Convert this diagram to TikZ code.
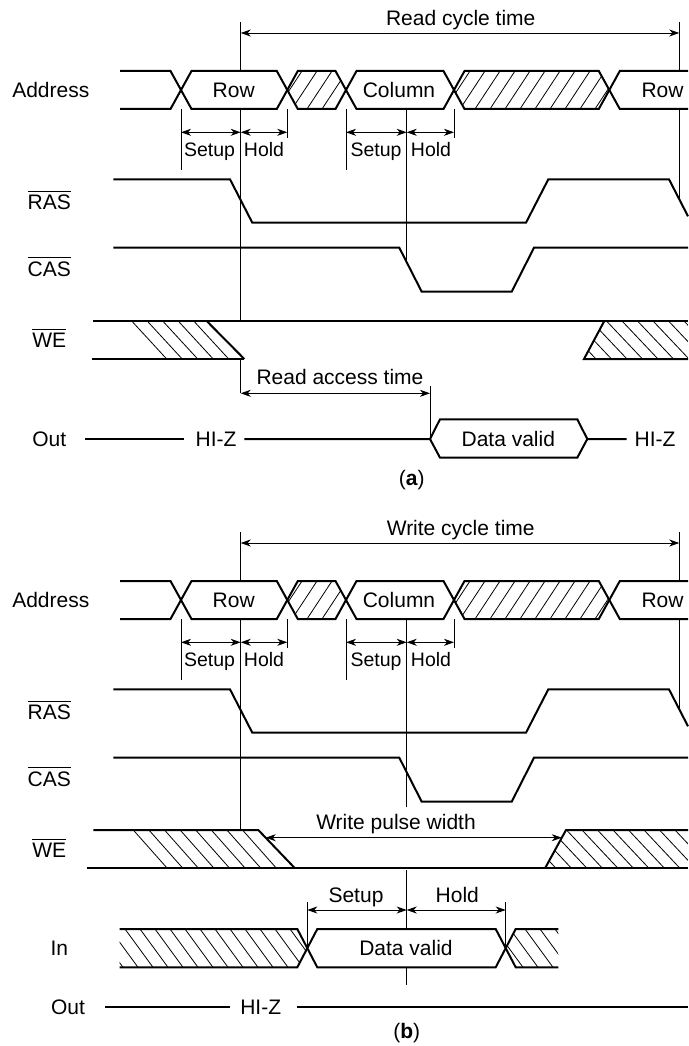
\documentclass[tikz,border=0pt]{standalone}
\usepackage{fontspec}
\setmainfont{Liberation Sans}
\usetikzlibrary{arrows.meta}
\newcommand\ovl[1]{\vbox{\hrule height 0.9pt\kern 3pt\hbox{#1}}}
\tikzset{
 sig/.style={line width=2pt, line join=miter},
 thinl/.style={line width=0.9pt},
 hat/.style={line width=0.8pt},
 dimarrow/.style={thinl, {Stealth[length=10pt,width=7pt,inset=3pt]}-{Stealth[length=10pt,width=7pt,inset=3pt]}},
 lbl/.style={font=\fontsize{21}{25}\selectfont, inner sep=0pt, text height=15pt, text depth=0pt},
 slbl/.style={lbl, font=\fontsize{19.5}{23}\selectfont, text height=14pt},
 olbl/.style={font=\fontsize{21}{25}\selectfont, inner sep=0pt, anchor=base},
}
% common part of one panel: #1 cycle text, #2 lower end of column line
\newcommand\drampanel[2]{%
 \node[lbl] (cyc) at (460.7,18.3) {#1};
 \draw[dimarrow] (240.7,33) -- (679.3,33);
 \draw[thinl] (240.7,22) -- (240.7,71) (240.7,109) -- (240.7,321);
 \draw[thinl] (679.3,22) -- (679.3,71) (679.3,109) -- (679.3,199);
 % address
 \node[lbl] (addr) at (50.8,90) {Address};
 \draw[sig] (120,71) -- (170.5,71) -- (191.5,109) -- (276.8,109) -- (297.8,71) -- (335.5,71) -- (356.5,109) -- (443.5,109) -- (464.5,71) -- (598.8,71) -- (619.8,109) -- (688,109);
 \draw[sig] (120,109) -- (170.5,109) -- (191.5,71) -- (276.8,71) -- (297.8,109) -- (335.5,109) -- (356.5,71) -- (443.5,71) -- (464.5,109) -- (598.8,109) -- (619.8,71) -- (688,71);
 \begin{scope}
  \clip (287.3,90) -- (297.8,71) -- (335.5,71) -- (346,90) -- (335.5,109) -- (297.8,109) -- cycle;
  \foreach \x in {262,277,...,352} \draw[hat] (\x,109) -- ++(25,-38);
 \end{scope}
 \begin{scope}
  \clip (454,90) -- (464.5,71) -- (598.8,71) -- (609.3,90) -- (598.8,109) -- (464.5,109) -- cycle;
  \foreach \x in {430,445,...,615} \draw[hat] (\x,109) -- ++(25,-38);
 \end{scope}
 \node[lbl] (rowa) at (233.7,90) {Row};
 \node[lbl] (col) at (399,90) {Column};
 \node[lbl] (rowb) at (662.5,90) {Row};
 % setup / hold
 \draw[thinl] (181,109) -- (181,170);
 \draw[thinl] (287.3,109) -- (287.3,138);
 \draw[thinl] (346,109) -- (346,170);
 \draw[thinl] (454,109) -- (454,138);
 \draw[thinl] (406.7,109) -- (406.7,#2);
 \draw[dimarrow] (181,132.3) -- (240.7,132.3);
 \draw[dimarrow] (240.7,132.3) -- (287.3,132.3);
 \draw[dimarrow] (346,132.3) -- (406.7,132.3);
 \draw[dimarrow] (406.7,132.3) -- (454,132.3);
 \node[slbl] (su1) at (209.5,149) {Setup};
 \node[slbl] (ho1) at (264,149) {Hold};
 \node[slbl] (su2) at (376,149) {Setup};
 \node[slbl] (ho2) at (431,149) {Hold};
 % RAS, CAS
 \node[olbl] (ras) at (49.3,209.3) {\ovl{RAS}};
 \draw[sig] (113.3,179.3) -- (230,179.3) -- (252.3,222.7) -- (526,222.7) -- (548.3,179.3) -- (669,179.3) -- (688,216.3);
 \node[olbl] (cas) at (49.3,276) {\ovl{CAS}};
 \draw[sig] (113.3,247.7) -- (399.3,247.7) -- (421.7,291.7) -- (511.7,291.7) -- (534,247.7) -- (688,247.7);
 \node[olbl] (we) at (49.3,347.7) {\ovl{WE}};
}
\begin{document}
\begin{tikzpicture}[x=1pt,y=-1pt]
\useasboundingbox (0,0) rectangle (688,1046);

% ================= (a) =================
\begin{scope}[name prefix=a-]
 \drampanel{Read cycle time}{262}
 % WE
 \draw[sig] (93.3,321) -- (688,321);
 \draw[sig] (91.7,359) -- (244.3,359);
 \draw[sig] (206.7,321) -- (244.3,359);
 \foreach \x in {131.7,147.2,162.7,178.2,193.7} \draw[hat] (\x,321) -- ++(35,38);
 \begin{scope}
  \clip (584,359) -- (604.3,321) -- (688,321) -- (688,359) -- cycle;
  \foreach \x in {560,575.5,...,700} \draw[hat] (\x,321) -- ++(36,38);
 \end{scope}
 \draw[sig] (688,359) -- (584,359) -- (604.3,321);
 % Out
 \node[lbl] (out) at (49.3,439) {Out};
 \draw[sig] (85,439) -- (184,439);
 \node[lbl] (hiz1) at (216,439) {HI-Z};
 \draw[sig] (244.3,439) -- (430,439) -- (440,419.3) -- (577.3,419.3) -- (587.3,439) -- (626.7,439);
 \draw[sig] (430,439) -- (440,457.7) -- (577.3,457.7) -- (587.3,439);
 \node[lbl] (dv) at (508.3,439) {Data valid};
 \node[lbl] (hiz2) at (655,439) {HI-Z};
 \draw[thinl] (240.7,359) -- (240.7,393.3);
 \draw[thinl] (430,386) -- (430,439);
 \draw[dimarrow] (240.7,393.3) -- (430,393.3);
 \node[lbl] (rat) at (340,376.7) {Read access time};
 \node[lbl] (cap) at (411.7,478.3) {(\textbf{a})};
\end{scope}

% ================= (b) =================
\begin{scope}[name prefix=b-, shift={(0,510)}]
 \drampanel{Write cycle time}{297}
\end{scope}
\begin{scope}[name prefix=b-]
 % WE
 \draw[sig] (86.7,868.3) -- (688,868.3);
 \foreach \x in {133.3,148.9,...,244} \draw[hat] (\x,830) -- ++(34,38.3);
 \draw[sig] (93.3,830) -- (258.3,830) -- (295,868.3);
 \begin{scope}
  \clip (545,868.3) -- (566,830) -- (688,830) -- (688,868.3) -- cycle;
  \foreach \x in {520,535.5,...,700} \draw[hat] (\x,830) -- ++(36,38.3);
 \end{scope}
 \draw[sig] (545,868.3) -- (566,830) -- (688,830);
 \draw[dimarrow] (265.7,837.7) -- (561.8,837.7);
 \node[lbl] (wpw) at (396,822) {Write pulse width};
 % In
 \node[lbl] (inl) at (59.3,948) {In};
 \begin{scope}
  \clip (119.5,929) -- (297.3,929) -- (307.3,948) -- (297.3,967.3) -- (119.5,967.3) -- cycle;
  \foreach \x in {95,110,...,310} \draw[hat] (\x,929) -- ++(28,38.3);
 \end{scope}
 \begin{scope}
  \clip (505.7,948) -- (515.7,929) -- (558.3,929) -- (558.3,967.3) -- (515.7,967.3) -- cycle;
  \foreach \x in {480,495,...,560} \draw[hat] (\x,929) -- ++(28,38.3);
 \end{scope}
 \draw[sig] (119.5,929) -- (297.3,929) -- (317.3,967.3) -- (495.7,967.3) -- (515.7,929) -- (558.3,929);
 \draw[sig] (119.5,967.3) -- (297.3,967.3) -- (317.3,929) -- (495.7,929) -- (515.7,967.3) -- (558.3,967.3);
 \node[lbl] (dv) at (406,948) {Data valid};
 \draw[thinl] (307.3,902.3) -- (307.3,948);
 \draw[thinl] (505.7,902.3) -- (505.7,948);
 \draw[thinl] (406.7,870) -- (406.7,929) (406.7,967.3) -- (406.7,985);
 \draw[dimarrow] (307.3,910) -- (406.7,910);
 \draw[dimarrow] (406.7,910) -- (505.7,910);
 \node[lbl] (su3) at (356,895) {Setup};
 \node[lbl] (ho3) at (457.3,895) {Hold};
 % Out
 \node[lbl] (out) at (68,1006.7) {Out};
 \draw[sig] (105.4,1006.7) -- (230,1006.7);
 \node[lbl] (hiz) at (260.7,1006.7) {HI-Z};
 \draw[sig] (296.7,1006.7) -- (688,1006.7);
 \node[lbl] (cap) at (406.7,1031) {(\textbf{b})};
\end{scope}
\end{tikzpicture}
\end{document}
